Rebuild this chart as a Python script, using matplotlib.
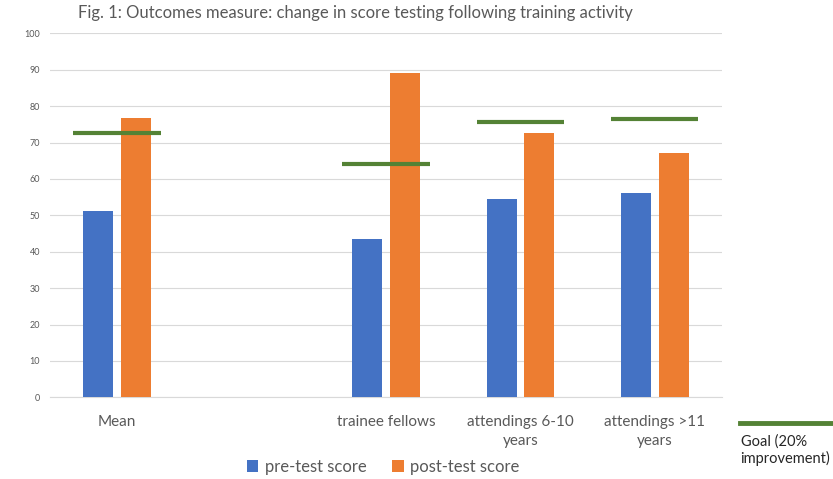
import numpy as np
import matplotlib
matplotlib.use("Agg")
import matplotlib.pyplot as plt
from matplotlib.lines import Line2D

plt.rcParams['font.family'] = ['Lato', 'DejaVu Sans']

# Data
categories = ["Mean", "", "trainee fellows", "attendings 6-10\nyears", "attendings >11\nyears"]
pre_test = [51.2, np.nan, 43.6, 54.5, 56.2]
post_test = [76.6, np.nan, 89.1, 72.6, 67.2]
goal = [72.7, np.nan, 64.1, 75.7, 76.5]

blue = "#4472C4"
orange = "#ED7D31"
green = "#548235"
grid_c = "#D9D9D9"
text_c = "#595959"

fig = plt.figure(figsize=(8.33, 4.79), dpi=100)
ax = fig.add_axes([0.06, 0.1705, 0.8067, 0.76])

x = np.arange(len(categories))
w = 0.223
off = 0.14
b1 = ax.bar(x - off, pre_test, w, color=blue, label="pre-test score", zorder=3)
b2 = ax.bar(x + off, post_test, w, color=orange, label="post-test score", zorder=3)
ax.hlines(goal, x - 0.325, x + 0.325, color=green, lw=3, zorder=4)

ax.set_xlim(-0.5, len(categories) - 0.5)
ax.set_ylim(0, 100)
ax.set_yticks(range(0, 101, 10))
ax.yaxis.grid(True, color=grid_c, lw=0.8, zorder=0)
ax.set_axisbelow(True)
ax.set_xticks(x)
ax.set_xticklabels(categories, fontsize=11, color=text_c, linespacing=1.45)
ax.tick_params(axis="x", length=0, pad=13)
ax.tick_params(axis="y", length=0, labelsize=6.5, labelcolor=text_c, pad=7)
for s in ["top", "right", "left"]:
    ax.spines[s].set_visible(False)
ax.spines["bottom"].set_color(grid_c)

fig.suptitle("Fig. 1: Outcomes measure: change in score testing following training activity",
             fontsize=12, color=text_c, x=0.427, y=0.99)

fig.legend(handles=[b1, b2], loc="center", bbox_to_anchor=(0.46, 0.025), ncol=2,
           frameon=False, fontsize=12, handlelength=0.7, handleheight=0.7,
           handletextpad=0.4, columnspacing=1.5, labelcolor=text_c)

# goal legend entry
fig.add_artist(Line2D([0.888, 0.998], [0.117, 0.117], color=green, lw=3.5,
                      transform=fig.transFigure))
fig.text(0.889, 0.093, "Goal (20%\nimprovement)", fontsize=10.5, color="#262626",
         va="top", ha="left", linespacing=1.2)

fig.savefig("out.png", dpi=100)
